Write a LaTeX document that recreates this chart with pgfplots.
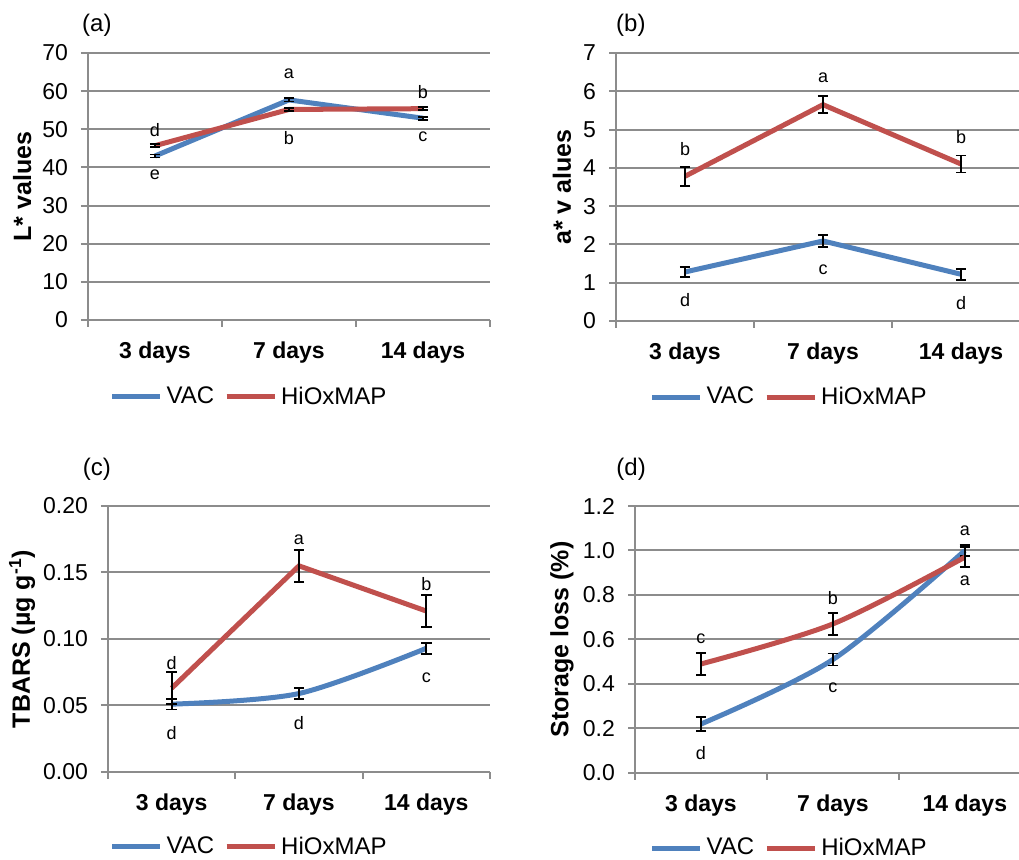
\documentclass[border=0pt]{standalone}
\usepackage{fontspec}
\setmainfont{Liberation Sans}
\usepackage{pgfplots}
\pgfplotsset{compat=1.18}
\definecolor{vac}{HTML}{4F81BD}
\definecolor{hiox}{HTML}{C0504D}
\definecolor{gridg}{HTML}{8C8C8C}
\newcommand{\ticksize}{\fontsize{11.5}{13}\selectfont}
\newcommand{\letsize}{\fontsize{9}{10}\selectfont}

\pgfplotsset{
  panel/.style={
    scale only axis, clip=false,
    xmin=-0.5,
    axis x line*=bottom, axis y line*=left,
    axis line style={gridg, line width=1pt, -},
    ymajorgrids, grid style={gridg, line width=1pt},
    xtick={0,1,2}, xticklabels={3 days,7 days,14 days},
    major x tick style={draw=none},
    minor xtick={-0.5,0.5,1.5,2.5},
    tick align=outside, tick style={gridg, line width=1pt},
    major tick length=3.5pt, minor tick length=3.5pt,
    x tick label style={font=\bfseries\ticksize, yshift=-4pt},
    y tick label style={font=\ticksize, xshift=-3pt},
    /pgf/number format/assume math mode=true,
    ylabel style={font=\bfseries\fontsize{12.5}{14}\selectfont, anchor=center},
    legend columns=2,
    legend style={draw=none, fill=none, anchor=center, font=\fontsize{12}{14}\selectfont,
      /tikz/every even column/.append style={column sep=3pt}},
    legend image code/.code={\draw[##1, line width=2.5pt] (0pt,0pt) -- (24pt,0pt);},
  },
  ser/.style={#1, line width=2.5pt, no markers,
    error bars/y dir=both, error bars/y explicit,
    error bars/error bar style={black, line width=0.9pt, solid},
    error bars/error mark options={black, rotate=90, mark size=2.6pt, line width=0.9pt}},
}
\tikzset{
  lbl/.style={font=\letsize},
  plab/.style={font=\fontsize{12}{14}\selectfont},
}

\begin{document}
\begin{tikzpicture}
\useasboundingbox (0,0) rectangle (509.5pt,430pt);

% (a) L*
\begin{axis}[panel, at={(44pt,270pt)}, anchor=south west,
  width=201pt, height=133.5pt, xmax=2.5,
  ymin=0, ymax=70, ytick={0,10,...,70},
  ylabel={L* values}, ylabel style={at={(rel axis cs:-0.164,0.5)}},
  legend style={at={(0.403,-0.288)}}]
\addplot[ser=vac] coordinates {(0,43.0) +- (0,0.4) (1,57.7) +- (0,0.4) (2,52.9) +- (0,0.4)};
\addplot[ser=hiox] coordinates {(0,45.7) +- (0,0.4) (1,55.2) +- (0,0.4) (2,55.4) +- (0,0.4)};
\legend{VAC,HiOxMAP}
\node[lbl] at (axis cs:0,49.8) {d};
\node[lbl] at (axis cs:0,38.0) {e};
\node[lbl] at (axis cs:1,64.5) {a};
\node[lbl] at (axis cs:1,47.7) {b};
\node[lbl] at (axis cs:2,59.8) {b};
\node[lbl] at (axis cs:2,48.0) {c};
\node[plab] at (axis description cs:0.022,1.105) {(a)};
\end{axis}

% (b) a*
\begin{axis}[panel, at={(308pt,269.5pt)}, anchor=south west,
  width=201.5pt, height=134pt, xmax=2.42,
  ymin=0, ymax=7, ytick={0,1,...,7},
  ylabel={a* v alues}, ylabel style={at={(rel axis cs:-0.134,0.5)}},
  legend style={at={(0.432,-0.284)}}]
\addplot[ser=vac] coordinates {(0,1.28) +- (0,0.13) (1,2.09) +- (0,0.15) (2,1.22) +- (0,0.14)};
\addplot[ser=hiox] coordinates {(0,3.78) +- (0,0.25) (1,5.65) +- (0,0.22) (2,4.10) +- (0,0.22)};
\legend{VAC,HiOxMAP}
\node[lbl] at (axis cs:0,4.49) {b};
\node[lbl] at (axis cs:1,6.35) {a};
\node[lbl] at (axis cs:2,4.81) {b};
\node[lbl] at (axis cs:0,0.55) {d};
\node[lbl] at (axis cs:1,1.33) {c};
\node[lbl] at (axis cs:2,0.48) {d};
\node[plab] at (axis description cs:0.037,1.104) {(b)};
\end{axis}

% (c) TBARS
\begin{axis}[panel, at={(54pt,44pt)}, anchor=south west,
  width=191pt, height=133pt, xmax=2.5,
  ymin=0, ymax=0.2, ytick={0,0.05,...,0.2},
  yticklabel style={/pgf/number format/.cd, fixed, fixed zerofill, precision=2},
  ylabel={TBARS (µg g\textsuperscript{-1})}, ylabel style={at={(rel axis cs:-0.225,0.5)}},
  legend style={at={(0.372,-0.282)}}]
\addplot[ser=vac, smooth] coordinates {(0,0.051) +- (0,0.004) (1,0.059) +- (0,0.004) (2,0.093) +- (0,0.004)};
\addplot[ser=hiox] coordinates {(0,0.063) +- (0,0.012) (1,0.155) +- (0,0.012) (2,0.121) +- (0,0.012)};
\legend{VAC,HiOxMAP}
\node[lbl] at (axis cs:0,0.082) {d};
\node[lbl] at (axis cs:1,0.1747) {a};
\node[lbl] at (axis cs:2,0.141) {b};
\node[lbl] at (axis cs:0,0.0293) {d};
\node[lbl] at (axis cs:1,0.0368) {d};
\node[lbl] at (axis cs:2,0.0711) {c};
\node[plab] at (axis description cs:-0.029,1.139) {(c)};
\end{axis}

% (d) Storage loss
\begin{axis}[panel, at={(317.5pt,43.5pt)}, anchor=south west,
  width=192pt, height=133.5pt, xmax=2.41,
  ymin=0, ymax=1.2, ytick={0,0.2,...,1.2},
  yticklabel style={/pgf/number format/.cd, fixed, fixed zerofill, precision=1},
  ylabel={Storage loss (\%)}, ylabel style={at={(rel axis cs:-0.19,0.5)}},
  legend style={at={(0.404,-0.281)}}]
\addplot[ser=vac, smooth] coordinates {(0,0.22) +- (0,0.03) (1,0.51) +- (0,0.027) (2,1.00) +- (0,0.025)};
\addplot[ser=hiox, smooth] coordinates {(0,0.49) +- (0,0.048) (1,0.67) +- (0,0.05) (2,0.97) +- (0,0.045)};
\legend{VAC,HiOxMAP}
\node[lbl] at (axis cs:0,0.605) {c};
\node[lbl] at (axis cs:1,0.788) {b};
\node[lbl] at (axis cs:2,1.089) {a};
\node[lbl] at (axis cs:2,0.863) {a};
\node[lbl] at (axis cs:0,0.09) {d};
\node[lbl] at (axis cs:1,0.383) {c};
\node[plab] at (axis description cs:-0.01,1.139) {(d)};
\end{axis}
\end{tikzpicture}
\end{document}
